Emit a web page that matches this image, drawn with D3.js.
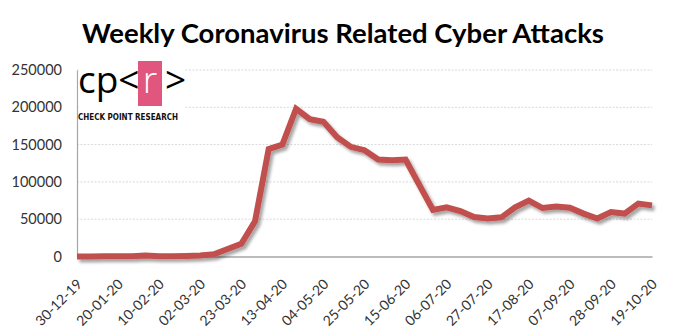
<!DOCTYPE html>
<html>
<head>
<meta charset="utf-8">
<script src="https://cdn.jsdelivr.net/npm/d3@7"></script>
<style>
  body { margin: 0; background: #fff; }
  svg { display: block; font-family: Lato, "Open Sans", sans-serif; }
</style>
</head>
<body>
<svg id="chart" width="684" height="336"></svg>
<script>
// weekly counts, first week starts 30-12-19
var startWeek = "2019-12-30";
var attacks = [
  0, 0, 200, 300, 500, 1500, 500, 400, 800, 1500,
  3000, 10000, 17000, 47000, 144000, 150000, 198000, 184000, 180500, 160000,
  147000, 142500, 130000, 129000, 130000, 96000, 62500, 66000, 61000, 53000,
  51000, 52500, 66000, 75000, 65000, 67000, 65500, 57500, 51000, 59500,
  57500, 71000, 68500
];
var xTickLabels = ["30-12-19", "20-01-20", "10-02-20", "02-03-20", "23-03-20",
  "13-04-20", "04-05-20", "25-05-20", "15-06-20", "06-07-20", "27-07-20",
  "17-08-20", "07-09-20", "28-09-20", "19-10-20"];
var yTicks = [0, 50000, 100000, 150000, 200000, 250000];

var svg = d3.select("#chart"),
  plotLeft = 77, plotRight = 652, plotTop = 70, plotBottom = 256.5,
  parse = d3.utcParse("%d-%m-%y"),
  start = d3.utcParse("%Y-%m-%d")(startWeek),
  weeks = attacks.map(function (v, i) {
    return { date: d3.utcWeek.offset(start, i), value: v };
  });

var x = d3.scaleUtc()
  .domain([weeks[0].date, weeks[weeks.length - 1].date])
  .range([plotLeft, plotRight]);
var y = d3.scaleLinear()
  .domain([0, 250000])
  .range([plotBottom, plotTop]);

var defs = svg.append("defs");
var shadow = defs.append("filter").attr("id", "shadow")
  .attr("x", "-10%").attr("y", "-10%").attr("width", "120%").attr("height", "130%");
shadow.append("feDropShadow")
  .attr("dx", 2.5).attr("dy", 3).attr("stdDeviation", 1.6)
  .attr("flood-color", "#000").attr("flood-opacity", 0.35);

// title
svg.append("text")
  .attr("x", 343).attr("y", 43)
  .attr("text-anchor", "middle")
  .style("font-size", "27.5px").style("font-weight", "bold")
  .attr("fill", "#000")
  .text("Weekly Coronavirus Related Cyber Attacks");

// grid
svg.append("g")
  .selectAll("line")
  .data(yTicks.slice(1))
  .join("line")
  .attr("x1", plotLeft).attr("x2", plotRight)
  .attr("y1", function (d) { return y(d); })
  .attr("y2", function (d) { return y(d); })
  .attr("stroke", "#d9d9d9")
  .attr("stroke-width", 1)
  .attr("stroke-dasharray", "2,1.5");

// y axis
var yAxis = svg.append("g")
  .attr("transform", "translate(" + plotLeft + ",0)")
  .call(d3.axisLeft(y).tickValues(yTicks).tickSize(0).tickPadding(15).tickFormat(d3.format("d")));
yAxis.select(".domain").attr("stroke", "#a6a6a6").attr("stroke-width", 1.2);
yAxis.selectAll("text").style("font-size", "14.5px").attr("fill", "#333")
  .attr("font-family", "Lato, 'Open Sans', sans-serif");

// x axis
var xAxis = svg.append("g")
  .attr("transform", "translate(0," + plotBottom + ")")
  .call(d3.axisBottom(x).tickValues(xTickLabels.map(parse)).tickSize(0)
    .tickFormat(d3.utcFormat("%d-%m-%y")));
xAxis.select(".domain").attr("stroke", "#a6a6a6").attr("stroke-width", 1.5);
xAxis.selectAll("text")
  .style("font-size", "14px").attr("fill", "#333")
  .attr("font-family", "Lato, 'Open Sans', sans-serif")
  .attr("text-anchor", "end")
  .attr("dy", "0.35em")
  .attr("y", 0)
  .attr("transform", "translate(2,25) rotate(-45)");

// line
var line = d3.line()
  .x(function (d) { return x(d.date); })
  .y(function (d) { return y(d.value); });
svg.append("path")
  .datum(weeks)
  .attr("d", line)
  .attr("fill", "none")
  .attr("stroke", "#c0504d")
  .attr("stroke-width", 6)
  .attr("stroke-linejoin", "miter")
  .attr("filter", "url(#shadow)");

// logo
var logo = svg.append("g");
logo.append("rect")
  .attr("x", 78.5).attr("y", 58).attr("width", 106).attr("height", 66)
  .attr("fill", "#fff");
logo.append("rect")
  .attr("x", 138).attr("y", 61).attr("width", 24).attr("height", 45)
  .attr("fill", "#e0567f");
logo.append("text")
  .attr("x", 78).attr("y", 93)
  .style("font-family", "'Open Sans', sans-serif")
  .style("font-size", "37px").style("font-weight", 400)
  .text("cp<");
logo.append("text")
  .attr("x", 150).attr("y", 93)
  .attr("text-anchor", "middle")
  .attr("fill", "#fff")
  .style("font-family", "'Open Sans', sans-serif")
  .style("font-size", "37px").style("font-weight", 300)
  .text("r");
logo.append("text")
  .attr("x", 165).attr("y", 93)
  .style("font-family", "'Open Sans', sans-serif")
  .style("font-size", "37px").style("font-weight", 400)
  .text(">");
logo.append("text")
  .attr("x", 78).attr("y", 120)
  .attr("textLength", 100).attr("lengthAdjust", "spacingAndGlyphs")
  .style("font-family", "'DejaVu Sans Condensed', 'DejaVu Sans', sans-serif")
  .style("font-size", "9.5px").style("font-weight", "bold")
  .attr("fill", "#111")
  .text("CHECK POINT RESEARCH");
</script>
</body>
</html>
